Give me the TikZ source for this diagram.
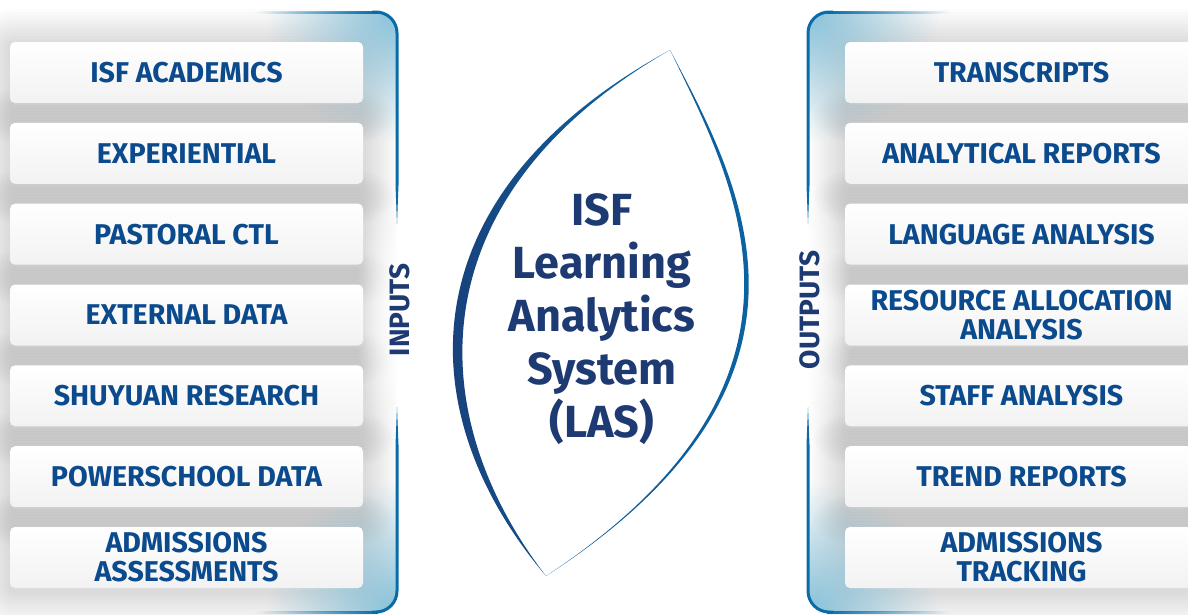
\documentclass[tikz,border=0pt]{standalone}
\usepackage{fontspec}
\setmainfont{Fira Sans}
\newfontfamily\dinfont{Fira Sans}
\usetikzlibrary{fadings}
\definecolor{boxblue}{HTML}{0B4A8C}
\definecolor{navy}{HTML}{1E3A72}
\definecolor{bordercol}{HTML}{0A6CA6}
\definecolor{cornerblue}{HTML}{86C0D8}
\definecolor{lensnavy}{HTML}{1B3A73}
\definecolor{lensteal}{HTML}{0A68A6}
\definecolor{lensmid}{HTML}{0E5798}
\definecolor{boxbottom}{HTML}{F2F2F2}
\tikzfading[name=fadetoleft, left color=transparent!100, right color=transparent!0]
\tikzfading[name=fadetoright, left color=transparent!0, right color=transparent!100]
\tikzfading[name=softglow, inner color=transparent!0, outer color=transparent!100]
\tikzset{
  iobox/.style={minimum width=353pt, minimum height=61pt, rounded corners=5pt,
    top color=white, bottom color=boxbottom, inner sep=0pt, align=center,
    text=boxblue, font=\dinfont\fontsize{28.6}{29}\selectfont\bfseries},
  sidelabel/.style={rotate=90, inner sep=0pt, text=navy,
    font=\dinfont\fontsize{28}{28}\selectfont\bfseries},
  centertext/.style={align=center, inner sep=0pt, text=navy,
    font=\fontsize{45}{52.8}\selectfont\bfseries},
  bordline/.style={draw=bordercol, line width=3pt, rounded corners=21pt}
}
\begin{document}
\begin{tikzpicture}[x=1pt,y=-1pt]
\useasboundingbox (0,0) rectangle (1188,614);
\fill[white] (0,0) rectangle (1188,614);
% soft shadows, left panel
\begin{scope}
\clip (-10,-10) rectangle (397,624);
\foreach \yc in {72.5,153.3,234.2,315.0,395.8,476.7,557.5}{
  \foreach \i in {1,...,12}{
    \pgfmathsetmacro\rr{5+3*\i}
    \fill[black, opacity=0.012, rounded corners=\rr pt]
      (10-3*\i, \yc-30.5-3*\i+3) rectangle (363+3*\i, \yc+30.5+3*\i+3);
  }
}
\end{scope}
% soft shadows, right panel
\begin{scope}
\clip (808,-10) rectangle (1200,624);
\foreach \yc in {72.5,153.3,234.2,315.0,395.8,476.7,557.5}{
  \foreach \i in {1,...,12}{
    \pgfmathsetmacro\rr{5+3*\i}
    \fill[black, opacity=0.012, rounded corners=\rr pt]
      (845-3*\i, \yc-30.5-3*\i+3) rectangle (1198+3*\i, \yc+30.5+3*\i+3);
  }
}
\end{scope}
% corner glows
\begin{scope}
\clip[rounded corners=21pt] (-10,12) -- (397,12) -- (397,612) -- (-10,612) -- cycle;
\fill[cornerblue, path fading=softglow] (397,12) circle (130pt);
\fill[cornerblue, path fading=softglow] (397,612) circle (130pt);
\end{scope}
\begin{scope}
\clip[rounded corners=21pt] (1200,12) -- (808,12) -- (808,612) -- (1200,612) -- cycle;
\fill[cornerblue, path fading=softglow] (808,12) circle (130pt);
\fill[cornerblue, path fading=softglow] (808,612) circle (130pt);
\end{scope}
% white glows behind side labels
\fill[white, path fading=softglow] (400,315) ellipse (45pt and 130pt);
\fill[white, path fading=softglow] (808,315) ellipse (45pt and 130pt);
% input boxes
\node[iobox] (in1) at (186.5,72.5) {ISF ACADEMICS};
\node[iobox] (in2) at (186.5,153.3) {EXPERIENTIAL};
\node[iobox] (in3) at (186.5,234.2) {PASTORAL CTL};
\node[iobox] (in4) at (186.5,315.0) {EXTERNAL DATA};
\node[iobox] (in5) at (186.5,395.8) {SHUYUAN RESEARCH};
\node[iobox] (in6) at (186.5,476.7) {POWERSCHOOL DATA};
\node[iobox] (in7) at (186.5,557.5) {ADMISSIONS\\ASSESSMENTS};
% output boxes
\node[iobox] (out1) at (1021.5,72.5) {TRANSCRIPTS};
\node[iobox] (out2) at (1021.5,153.3) {ANALYTICAL REPORTS};
\node[iobox] (out3) at (1021.5,234.2) {LANGUAGE ANALYSIS};
\node[iobox] (out4) at (1021.5,315.0) {RESOURCE ALLOCATION\\ANALYSIS};
\node[iobox] (out5) at (1021.5,395.8) {STAFF ANALYSIS};
\node[iobox] (out6) at (1021.5,476.7) {TREND REPORTS};
\node[iobox] (out7) at (1021.5,557.5) {ADMISSIONS\\TRACKING};
% left bracket
\fill[bordercol, path fading=fadetoleft] (255,10.5) rectangle (378,13.5);
\draw[bordline] (372,12) -- (397,12) -- (397,185);
\fill[bordercol] (395.5,185) -- (398.5,185) -- (397,224) -- cycle;
\fill[bordercol] (397,407) -- (398.5,445) -- (395.5,445) -- cycle;
\draw[bordline] (397,445) -- (397,612) -- (372,612);
\fill[bordercol, path fading=fadetoleft] (255,610.5) rectangle (378,613.5);
% right bracket
\fill[bordercol, path fading=fadetoright] (827,10.5) rectangle (950,13.5);
\draw[bordline] (833,12) -- (808,12) -- (808,185);
\fill[bordercol] (806.5,185) -- (809.5,185) -- (808,224) -- cycle;
\fill[bordercol] (808,407) -- (809.5,445) -- (806.5,445) -- cycle;
\draw[bordline] (808,445) -- (808,612) -- (833,612);
\fill[bordercol, path fading=fadetoright] (827,610.5) rectangle (950,613.5);
% side labels
\node[sidelabel] (inlab) at (400,310) {INPUTS};
\node[sidelabel] (outlab) at (810,310) {OUTPUTS};
% central lens
\shade[left color=lensnavy, right color=lensteal]
  (670,50) .. controls (406,194) and (406,411) .. (546,576)
  .. controls (419,411) and (419,194) .. (670,50) -- cycle;
\shade[left color=lensmid, right color=lensteal]
  (670,50) .. controls (741.4,185.4) and (849.6,379.6) .. (546,576)
  .. controls (843.6,379.6) and (735.4,185.4) .. (670,50) -- cycle;
\node[centertext] (las) at (602,319) {ISF\\Learning\\Analytics\\System\\(LAS)};
\end{tikzpicture}
\end{document}
